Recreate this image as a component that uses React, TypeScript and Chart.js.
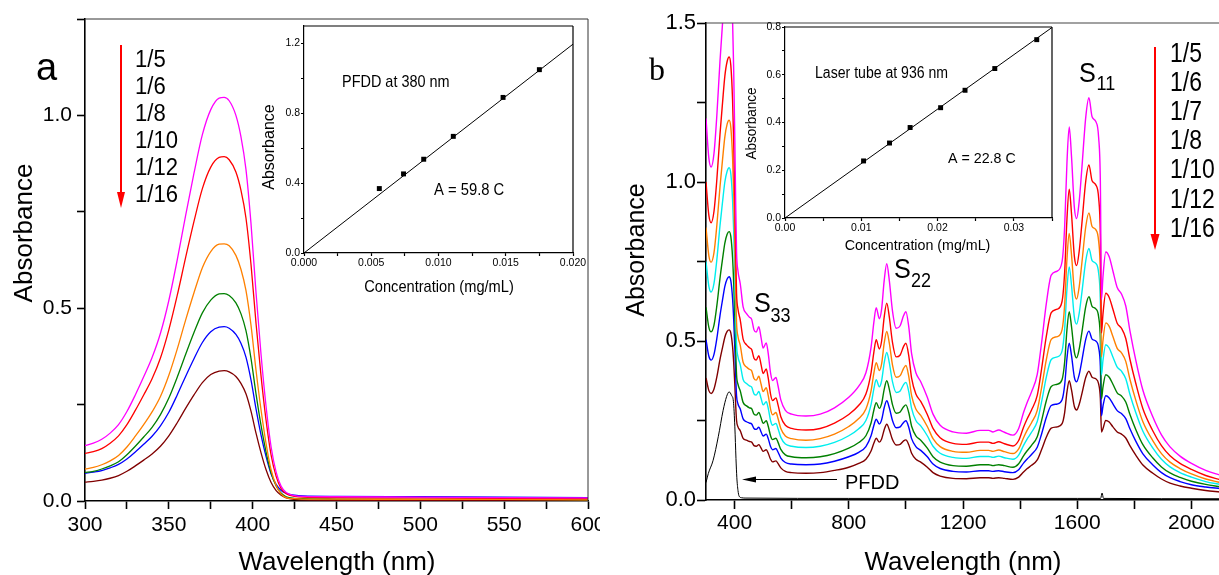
import React, { useEffect, useRef } from 'react';
import { Chart, registerables } from 'chart.js';

Chart.register(...registerables);

const SANS = "'Liberation Sans', Arial, Helvetica, sans-serif";
const SERIF = "'Liberation Serif', 'Times New Roman', Times, serif";

const MAGENTA = '#ff00ff';
const RED = '#ff0000';
const ORANGE = '#ff8000';
const CYAN = '#00eeee';
const GREEN = '#008000';
const BLUE = '#0000ff';
const BROWN = '#800000';

// ---------- Panel a: PFDD absorption spectra at six dilutions ----------
const WL_A = [300, 305, 310, 315, 320, 325, 330, 335, 340, 345, 350, 355, 360, 365, 370, 375, 380, 383, 386, 390,
  393, 396, 399, 402, 405, 408, 411, 414, 417, 420, 425, 430, 450, 500, 550, 600];
const PFDD_1_5 = [0.144, 0.150, 0.160, 0.176, 0.198, 0.232, 0.275, 0.322, 0.372, 0.435, 0.520, 0.625, 0.740, 0.850, 0.950, 1.015, 1.045, 1.047, 1.038, 1.000,
  0.945, 0.860, 0.720, 0.540, 0.380, 0.245, 0.140, 0.075, 0.038, 0.022, 0.014, 0.012, 0.011, 0.010, 0.009, 0.008];
const PFDD_1_6 = [0.123, 0.128, 0.136, 0.150, 0.169, 0.198, 0.235, 0.275, 0.317, 0.371, 0.444, 0.533, 0.631, 0.725, 0.810, 0.866, 0.891, 0.893, 0.885, 0.853,
  0.806, 0.734, 0.614, 0.461, 0.324, 0.209, 0.119, 0.064, 0.032, 0.019, 0.012, 0.010, 0.009, 0.008, 0.007, 0.006];
const PFDD_1_8 = [0.083, 0.087, 0.094, 0.104, 0.118, 0.140, 0.168, 0.198, 0.231, 0.271, 0.326, 0.394, 0.469, 0.540, 0.605, 0.647, 0.666, 0.667, 0.662, 0.637,
  0.601, 0.546, 0.456, 0.339, 0.236, 0.149, 0.081, 0.040, 0.018, 0.009, 0.006, 0.005, 0.005, 0.004, 0.004, 0.003];
const PFDD_1_10 = [0.074, 0.077, 0.083, 0.091, 0.102, 0.120, 0.142, 0.166, 0.191, 0.224, 0.267, 0.321, 0.380, 0.437, 0.488, 0.521, 0.537, 0.538, 0.533, 0.514,
  0.486, 0.442, 0.370, 0.278, 0.196, 0.127, 0.073, 0.039, 0.020, 0.011, 0.007, 0.006, 0.005, 0.004, 0.004, 0.003];
const PFDD_1_12 = [0.072, 0.075, 0.079, 0.086, 0.095, 0.109, 0.127, 0.147, 0.168, 0.195, 0.230, 0.275, 0.323, 0.369, 0.411, 0.439, 0.451, 0.452, 0.448, 0.432,
  0.409, 0.373, 0.314, 0.239, 0.171, 0.115, 0.070, 0.043, 0.027, 0.020, 0.015, 0.013, 0.012, 0.011, 0.010, 0.009];
const PFDD_1_16 = [0.049, 0.051, 0.054, 0.059, 0.066, 0.077, 0.091, 0.106, 0.122, 0.142, 0.169, 0.203, 0.240, 0.275, 0.307, 0.328, 0.337, 0.338, 0.335, 0.323,
  0.305, 0.278, 0.233, 0.176, 0.125, 0.081, 0.048, 0.027, 0.015, 0.008, 0.004, 0.003, 0.002, 0.002, 0.001, 0.001];
const LEGEND_A = ['1/5', '1/6', '1/8', '1/10', '1/12', '1/16'];
const SERIES_A = [PFDD_1_5, PFDD_1_6, PFDD_1_8, PFDD_1_10, PFDD_1_12, PFDD_1_16];
const COLORS_A = [MAGENTA, RED, ORANGE, GREEN, BLUE, BROWN];

// Inset a: absorbance at 380 nm against PFDD concentration
const CONC_A = [0.0056, 0.0074, 0.0089, 0.0111, 0.0148, 0.0175];
const ABS_380 = [0.369, 0.453, 0.537, 0.668, 0.891, 1.05];
const FIT_A_X = [0, 0.02];
const FIT_A_Y = [0, 1.196];

// ---------- Panel b: laser-tube dispersions at seven dilutions ----------
const WL_B = [300, 310, 318, 328, 338, 349, 358, 366, 374, 381,
  387, 393, 397, 401, 404, 407, 412, 420, 430, 442,
  452, 460, 468, 476, 485, 493, 500, 511, 518, 526,
  533, 545, 552, 562, 578, 600, 650, 700, 750, 800,
  835, 860, 878, 888, 896, 907, 915, 924, 933, 942,
  953, 966, 980, 992, 1000, 1010, 1020, 1035, 1052, 1075,
  1095, 1120, 1165, 1212, 1260, 1290, 1305, 1325, 1345, 1375,
  1395, 1412, 1424, 1440, 1460, 1475, 1492, 1509, 1530, 1547,
  1556, 1564, 1572, 1580, 1590, 1598, 1607, 1616, 1630, 1641,
  1652, 1665, 1675, 1681, 1685, 1690, 1700, 1712, 1725, 1740,
  1755, 1770, 1785, 1805, 1830, 1865, 1895, 1925, 1960, 2000,
  2050, 2100];
const TUBE_1_5 = [1.20, 1.075, 1.047, 1.09, 1.21, 1.38, 1.50, 1.60, 1.655, 1.672,
  1.64, 1.51, 1.35, 1.13, 0.93, 0.78, 0.72, 0.68, 0.607, 0.586,
  0.575, 0.568, 0.535, 0.528, 0.545, 0.51, 0.478, 0.494, 0.46, 0.40,
  0.376, 0.385, 0.36, 0.315, 0.282, 0.27, 0.264, 0.27, 0.29, 0.323,
  0.358, 0.40, 0.48, 0.56, 0.605, 0.57, 0.60, 0.69, 0.743, 0.69,
  0.595, 0.54, 0.548, 0.58, 0.592, 0.545, 0.46, 0.40, 0.372, 0.323,
  0.27, 0.235, 0.214, 0.21, 0.219, 0.219, 0.214, 0.22, 0.213, 0.204,
  0.225, 0.275, 0.305, 0.34, 0.395, 0.493, 0.619, 0.707, 0.72, 0.75,
  0.86, 1.06, 1.173, 1.08, 0.92, 0.885, 0.94, 1.04, 1.205, 1.265,
  1.205, 1.19, 1.14, 1.0, 0.63, 0.70, 0.78, 0.765, 0.72, 0.668,
  0.648, 0.61, 0.53, 0.44, 0.345, 0.261, 0.205, 0.167, 0.138, 0.115,
  0.093, 0.078];
const TUBE_1_6 = [1.000, 0.895, 0.872, 0.908, 1.008, 1.150, 1.250, 1.333, 1.379, 1.393,
  1.366, 1.258, 1.125, 0.941, 0.775, 0.650, 0.600, 0.566, 0.506, 0.488,
  0.479, 0.473, 0.446, 0.440, 0.454, 0.425, 0.398, 0.412, 0.383, 0.333,
  0.313, 0.321, 0.300, 0.262, 0.235, 0.225, 0.220, 0.225, 0.242, 0.269,
  0.298, 0.333, 0.400, 0.466, 0.504, 0.475, 0.500, 0.575, 0.619, 0.575,
  0.496, 0.450, 0.456, 0.483, 0.493, 0.454, 0.383, 0.333, 0.310, 0.269,
  0.225, 0.196, 0.178, 0.175, 0.182, 0.182, 0.178, 0.183, 0.177, 0.170,
  0.187, 0.229, 0.254, 0.283, 0.329, 0.411, 0.516, 0.589, 0.600, 0.625,
  0.716, 0.883, 0.977, 0.900, 0.766, 0.737, 0.783, 0.866, 1.004, 1.054,
  1.004, 0.991, 0.950, 0.833, 0.525, 0.583, 0.650, 0.637, 0.600, 0.556,
  0.540, 0.508, 0.441, 0.367, 0.287, 0.217, 0.171, 0.139, 0.115, 0.096,
  0.077, 0.064];
const TUBE_1_7 = [0.857, 0.768, 0.748, 0.778, 0.864, 0.985, 1.071, 1.142, 1.182, 1.194,
  1.171, 1.078, 0.964, 0.807, 0.664, 0.557, 0.514, 0.486, 0.433, 0.418,
  0.411, 0.406, 0.382, 0.377, 0.389, 0.364, 0.341, 0.353, 0.328, 0.286,
  0.268, 0.275, 0.257, 0.225, 0.201, 0.193, 0.188, 0.193, 0.207, 0.231,
  0.256, 0.286, 0.343, 0.400, 0.432, 0.407, 0.428, 0.493, 0.530, 0.493,
  0.425, 0.386, 0.391, 0.414, 0.423, 0.389, 0.328, 0.286, 0.266, 0.231,
  0.193, 0.168, 0.153, 0.150, 0.156, 0.156, 0.153, 0.157, 0.152, 0.146,
  0.161, 0.196, 0.218, 0.243, 0.282, 0.352, 0.442, 0.505, 0.514, 0.536,
  0.614, 0.757, 0.838, 0.771, 0.657, 0.632, 0.671, 0.743, 0.860, 0.903,
  0.860, 0.850, 0.814, 0.714, 0.450, 0.500, 0.557, 0.546, 0.514, 0.477,
  0.463, 0.436, 0.378, 0.314, 0.246, 0.186, 0.146, 0.119, 0.099, 0.082,
  0.066, 0.055];
const TUBE_1_8 = [0.750, 0.672, 0.654, 0.681, 0.756, 0.863, 0.938, 1.000, 1.034, 1.045,
  1.025, 0.944, 0.844, 0.706, 0.581, 0.488, 0.450, 0.425, 0.379, 0.366,
  0.359, 0.355, 0.334, 0.330, 0.341, 0.319, 0.299, 0.309, 0.288, 0.250,
  0.235, 0.241, 0.225, 0.197, 0.176, 0.169, 0.165, 0.169, 0.181, 0.202,
  0.224, 0.250, 0.300, 0.350, 0.378, 0.356, 0.375, 0.431, 0.464, 0.431,
  0.372, 0.338, 0.343, 0.363, 0.370, 0.341, 0.288, 0.250, 0.233, 0.202,
  0.169, 0.147, 0.134, 0.131, 0.137, 0.137, 0.134, 0.138, 0.133, 0.128,
  0.141, 0.172, 0.191, 0.213, 0.247, 0.308, 0.387, 0.442, 0.450, 0.469,
  0.538, 0.663, 0.733, 0.675, 0.575, 0.553, 0.588, 0.650, 0.753, 0.791,
  0.753, 0.744, 0.713, 0.625, 0.394, 0.438, 0.488, 0.478, 0.450, 0.418,
  0.405, 0.381, 0.331, 0.275, 0.216, 0.163, 0.128, 0.104, 0.086, 0.072,
  0.058, 0.049];
const TUBE_1_10 = [0.606, 0.543, 0.529, 0.550, 0.611, 0.697, 0.758, 0.808, 0.836, 0.844,
  0.828, 0.763, 0.682, 0.571, 0.470, 0.394, 0.364, 0.343, 0.307, 0.296,
  0.290, 0.287, 0.270, 0.267, 0.275, 0.258, 0.241, 0.249, 0.232, 0.202,
  0.190, 0.194, 0.182, 0.159, 0.142, 0.136, 0.133, 0.136, 0.146, 0.163,
  0.181, 0.202, 0.242, 0.283, 0.306, 0.288, 0.303, 0.348, 0.375, 0.348,
  0.300, 0.273, 0.277, 0.293, 0.299, 0.275, 0.232, 0.202, 0.188, 0.163,
  0.136, 0.119, 0.108, 0.106, 0.111, 0.111, 0.108, 0.111, 0.108, 0.103,
  0.114, 0.139, 0.154, 0.172, 0.199, 0.249, 0.313, 0.357, 0.364, 0.379,
  0.434, 0.535, 0.592, 0.545, 0.465, 0.447, 0.475, 0.525, 0.609, 0.639,
  0.609, 0.601, 0.576, 0.505, 0.318, 0.354, 0.394, 0.386, 0.364, 0.337,
  0.327, 0.308, 0.268, 0.222, 0.174, 0.132, 0.104, 0.085, 0.071, 0.059,
  0.049, 0.042];
const TUBE_1_12 = [0.504, 0.452, 0.440, 0.458, 0.508, 0.580, 0.630, 0.672, 0.695, 0.702,
  0.689, 0.634, 0.567, 0.475, 0.391, 0.328, 0.302, 0.286, 0.255, 0.246,
  0.242, 0.239, 0.225, 0.222, 0.229, 0.214, 0.201, 0.207, 0.193, 0.168,
  0.158, 0.162, 0.151, 0.132, 0.118, 0.113, 0.111, 0.113, 0.122, 0.136,
  0.150, 0.168, 0.202, 0.235, 0.254, 0.239, 0.252, 0.290, 0.312, 0.290,
  0.250, 0.227, 0.230, 0.244, 0.249, 0.229, 0.193, 0.168, 0.156, 0.136,
  0.113, 0.099, 0.090, 0.088, 0.092, 0.092, 0.090, 0.092, 0.089, 0.086,
  0.095, 0.116, 0.128, 0.143, 0.166, 0.207, 0.260, 0.297, 0.302, 0.315,
  0.361, 0.445, 0.493, 0.454, 0.386, 0.372, 0.395, 0.437, 0.506, 0.531,
  0.506, 0.500, 0.479, 0.420, 0.265, 0.294, 0.328, 0.321, 0.302, 0.281,
  0.272, 0.256, 0.223, 0.185, 0.145, 0.110, 0.086, 0.070, 0.058, 0.048,
  0.041, 0.036];
const TUBE_1_16 = [0.384, 0.344, 0.335, 0.349, 0.387, 0.442, 0.480, 0.512, 0.530, 0.535,
  0.525, 0.483, 0.432, 0.362, 0.298, 0.250, 0.230, 0.218, 0.194, 0.188,
  0.184, 0.182, 0.171, 0.169, 0.174, 0.163, 0.153, 0.158, 0.147, 0.128,
  0.120, 0.123, 0.115, 0.101, 0.090, 0.086, 0.084, 0.086, 0.093, 0.103,
  0.115, 0.128, 0.154, 0.179, 0.194, 0.182, 0.192, 0.221, 0.238, 0.221,
  0.190, 0.173, 0.175, 0.186, 0.189, 0.174, 0.147, 0.128, 0.119, 0.103,
  0.086, 0.075, 0.068, 0.067, 0.070, 0.070, 0.068, 0.070, 0.068, 0.065,
  0.072, 0.088, 0.098, 0.109, 0.126, 0.158, 0.198, 0.226, 0.230, 0.240,
  0.275, 0.339, 0.375, 0.346, 0.294, 0.283, 0.301, 0.333, 0.386, 0.405,
  0.386, 0.381, 0.365, 0.320, 0.214, 0.224, 0.250, 0.245, 0.230, 0.214,
  0.207, 0.195, 0.170, 0.141, 0.110, 0.084, 0.066, 0.053, 0.044, 0.037,
  0.030, 0.025];
const LEGEND_B = ['1/5', '1/6', '1/7', '1/8', '1/10', '1/12', '1/16'];
const SERIES_B = [TUBE_1_5, TUBE_1_6, TUBE_1_7, TUBE_1_8, TUBE_1_10, TUBE_1_12, TUBE_1_16];
const COLORS_B = [MAGENTA, RED, ORANGE, CYAN, GREEN, BLUE, BROWN];

// Pure PFDD reference spectrum drawn in panel b
const WL_PFDD = [300, 308, 325, 343, 360, 372, 381, 390, 396, 401, 405, 408, 412, 416, 425, 440, 800, 1200, 1600, 1682, 1687, 1692, 2100];
const ABS_PFDD = [0.055, 0.083, 0.125, 0.199, 0.282, 0.325, 0.34, 0.328, 0.31, 0.23, 0.13, 0.07, 0.03, 0.012, 0.007, 0.006, 0.005, 0.005, 0.005, 0.005, 0.022, 0.005, 0.004];

// Inset b: absorbance at 936 nm against tube concentration
const CONC_B = [0.0103, 0.0137, 0.0164, 0.0204, 0.0236, 0.0275, 0.0330];
const ABS_936 = [0.239, 0.314, 0.379, 0.462, 0.535, 0.626, 0.747];
const FIT_B_X = [0, 0.035];
const FIT_B_Y = [0, 0.798];

// Tick positions and labelled ticks
const A_X_TICKS = [300, 325, 350, 375, 400, 425, 450, 475, 500, 525, 550, 575, 600];
const A_X_LABELS = [300, 350, 400, 450, 500, 550, 600];
const A_Y_TICKS = [0, 0.25, 0.5, 0.75, 1, 1.25];
const A_Y_LABELS = [0, 0.5, 1];
const B_X_TICKS = [400, 600, 800, 1000, 1200, 1400, 1600, 1800, 2000];
const B_X_LABELS = [400, 800, 1200, 1600, 2000];
const B_Y_TICKS = [0, 0.25, 0.5, 0.75, 1, 1.25, 1.5];
const B_Y_LABELS = [0, 0.5, 1, 1.5];
const IA_X_TICKS = [0, 0.0025, 0.005, 0.0075, 0.01, 0.0125, 0.015, 0.0175, 0.02];
const IA_X_LABELS = [0, 0.005, 0.01, 0.015, 0.02];
const IA_Y_TICKS = [0, 0.2, 0.4, 0.6, 0.8, 1.0, 1.2];
const IA_Y_LABELS = [0, 0.4, 0.8, 1.2];
const IB_X_TICKS = [0, 0.005, 0.01, 0.015, 0.02, 0.025, 0.03, 0.035];
const IB_X_LABELS = [0, 0.01, 0.02, 0.03];
const IB_Y_TICKS = [0, 0.1, 0.2, 0.3, 0.4, 0.5, 0.6, 0.7, 0.8];
const IB_Y_LABELS = [0, 0.2, 0.4, 0.6, 0.8];

type Pt = { x: number; y: number };
const pts = (xs: number[], ys: number[]): Pt[] => xs.map((x, i) => ({ x, y: ys[i] }));

interface AxisSpec {
  min: number;
  max: number;
  ticks: number[];
  labels: number[];
  digits: number;
  font: number;
  tickLen: number;
  pad: number;
  size: number;
  border: number;
}

function axis(s: AxisSpec, horizontal: boolean): any {
  return {
    type: 'linear',
    min: s.min,
    max: s.max,
    afterBuildTicks: (sc: any) => {
      sc.ticks = s.ticks.map((value) => ({ value }));
    },
    afterFit: (sc: any) => {
      if (horizontal) sc.height = s.size;
      else sc.width = s.size;
      sc.paddingLeft = 0;
      sc.paddingRight = 0;
      sc.paddingTop = 0;
      sc.paddingBottom = 0;
    },
    ticks: {
      autoSkip: false,
      maxRotation: 0,
      minRotation: 0,
      padding: s.pad,
      color: '#000',
      font: { family: SANS, size: s.font },
      callback: (v: any) => {
        const n = Number(v);
        return s.labels.some((l) => Math.abs(l - n) < 1e-9) ? n.toFixed(s.digits) : '';
      },
    },
    grid: {
      display: true,
      drawOnChartArea: false,
      drawTicks: true,
      tickLength: s.tickLen,
      tickColor: '#000',
      tickWidth: s.border,
    },
    border: { display: true, color: '#000', width: s.border },
  };
}

function lineSet(data: Pt[], color: string, width: number): any {
  return {
    data,
    borderColor: color,
    backgroundColor: color,
    borderWidth: width,
    pointRadius: 0,
    fill: false,
    cubicInterpolationMode: 'monotone',
  };
}

type TextOpts = {
  family?: string;
  align?: CanvasTextAlign;
  baseline?: CanvasTextBaseline;
  sx?: number;
  rot?: number;
  color?: string;
};

function drawText(ctx: CanvasRenderingContext2D, s: string, x: number, y: number, size: number, o: TextOpts = {}) {
  ctx.save();
  ctx.translate(x, y);
  if (o.rot) ctx.rotate(o.rot);
  if (o.sx) ctx.scale(o.sx, 1);
  ctx.font = `${size}px ${o.family ?? SANS}`;
  ctx.fillStyle = o.color ?? '#000';
  ctx.textAlign = o.align ?? 'left';
  ctx.textBaseline = o.baseline ?? 'alphabetic';
  ctx.fillText(s, 0, 0);
  ctx.restore();
}

function downArrow(ctx: CanvasRenderingContext2D, x: number, y0: number, y1: number, head: number, half: number, color: string, lw: number) {
  ctx.save();
  ctx.strokeStyle = color;
  ctx.fillStyle = color;
  ctx.lineWidth = lw;
  ctx.beginPath();
  ctx.moveTo(x, y0);
  ctx.lineTo(x, y1 - head + 1);
  ctx.stroke();
  ctx.beginPath();
  ctx.moveTo(x - half, y1 - head);
  ctx.lineTo(x + half, y1 - head);
  ctx.lineTo(x, y1);
  ctx.closePath();
  ctx.fill();
  ctx.restore();
}

function leftArrow(ctx: CanvasRenderingContext2D, tip: number, tail: number, y: number, head: number, half: number, color: string, lw: number) {
  ctx.save();
  ctx.strokeStyle = color;
  ctx.fillStyle = color;
  ctx.lineWidth = lw;
  ctx.beginPath();
  ctx.moveTo(tail, y);
  ctx.lineTo(tip + head - 1, y);
  ctx.stroke();
  ctx.beginPath();
  ctx.moveTo(tip + head, y - half);
  ctx.lineTo(tip + head, y + half);
  ctx.lineTo(tip, y);
  ctx.closePath();
  ctx.fill();
  ctx.restore();
}

function bandLabel(ctx: CanvasRenderingContext2D, sub: string, x: number, y: number, xs: number, ys: number) {
  drawText(ctx, 'S', x, y, 28, { sx: 0.9 });
  drawText(ctx, sub, xs, ys, 20, { sx: 0.9 });
}

function frame(ctx: CanvasRenderingContext2D, ca: any, sides: string, color: string, lw: number) {
  ctx.save();
  ctx.strokeStyle = color;
  ctx.lineWidth = lw;
  ctx.beginPath();
  if (sides.includes('t')) {
    ctx.moveTo(ca.left, ca.top);
    ctx.lineTo(ca.right, ca.top);
  }
  if (sides.includes('r')) {
    ctx.moveTo(ca.right, ca.top);
    ctx.lineTo(ca.right, ca.bottom);
  }
  ctx.stroke();
  ctx.restore();
}

// Panel a decorations: frame, titles, panel letter, dilution legend
const overlayA = {
  id: 'overlayA',
  afterDraw(chart: any) {
    const ctx: CanvasRenderingContext2D = chart.ctx;
    frame(ctx, chart.chartArea, 'tr', '#333', 1);
    drawText(ctx, 'Absorbance', 25, 233, 26, { rot: -Math.PI / 2, align: 'center', baseline: 'middle' });
    drawText(ctx, 'Wavelength (nm)', 337, 570, 26, { align: 'center' });
    drawText(ctx, 'a', 36, 80, 38);
    downArrow(ctx, 121, 45, 208, 16, 4, RED, 2);
    LEGEND_A.forEach((t, i) => drawText(ctx, t, 135, 66.7 + 27 * i, 23, { sx: 0.96 }));
  },
};

// Panel b decorations (drawn in page coordinates; canvas sits at x = 600)
const overlayB = {
  id: 'overlayB',
  afterDraw(chart: any) {
    const ctx: CanvasRenderingContext2D = chart.ctx;
    frame(ctx, chart.chartArea, 't', '#444', 1.2);
    ctx.save();
    ctx.translate(-600, 0);
    drawText(ctx, 'Absorbance', 637, 250, 25, { rot: -Math.PI / 2, align: 'center', baseline: 'middle' });
    drawText(ctx, 'Wavelength (nm)', 963, 570, 26, { align: 'center' });
    drawText(ctx, 'b', 649, 80, 32, { family: SERIF });
    bandLabel(ctx, '33', 754, 312, 770.5, 322);
    bandLabel(ctx, '22', 894, 278, 911, 287);
    bandLabel(ctx, '11', 1079, 82, 1096.5, 90);
    downArrow(ctx, 1155, 47, 250, 16, 4.5, RED, 2);
    LEGEND_B.forEach((t, i) => drawText(ctx, t, 1170, 61.5 + 29.2 * i, 27, { sx: 0.85 }));
    leftArrow(ctx, 742, 837, 479.5, 14, 3, '#000', 1);
    drawText(ctx, 'PFDD', 845, 488.5, 20);
    ctx.restore();
  },
};

// Inset a decorations (canvas at 240, 20)
const overlayIA = {
  id: 'overlayIA',
  afterDraw(chart: any) {
    const ctx: CanvasRenderingContext2D = chart.ctx;
    frame(ctx, chart.chartArea, 'tr', '#000', 1.2);
    ctx.save();
    ctx.translate(-240, -20);
    drawText(ctx, 'Absorbance', 270, 147, 16, { rot: -Math.PI / 2, align: 'center', baseline: 'middle' });
    drawText(ctx, 'Concentration (mg/mL)', 439, 292, 17, { align: 'center', sx: 0.86 });
    drawText(ctx, 'PFDD at 380 nm', 342, 86.5, 17, { sx: 0.85 });
    drawText(ctx, 'A = 59.8 C', 434, 195, 17, { sx: 0.87 });
    ctx.restore();
  },
};

// Inset b decorations (canvas at 720, 20)
const overlayIB = {
  id: 'overlayIB',
  afterDraw(chart: any) {
    const ctx: CanvasRenderingContext2D = chart.ctx;
    frame(ctx, chart.chartArea, 'tr', '#000', 1.2);
    ctx.save();
    ctx.translate(-720, -20);
    drawText(ctx, 'Absorbance', 752, 123.5, 15, { rot: -Math.PI / 2, align: 'center', baseline: 'middle', sx: 0.9 });
    drawText(ctx, 'Concentration (mg/mL)', 917.5, 250, 15, { align: 'center', sx: 0.95 });
    drawText(ctx, 'Laser tube at 936 nm', 815, 78.3, 16, { sx: 0.88 });
    drawText(ctx, 'A = 22.8 C', 948, 163.3, 15, { sx: 0.95 });
    ctx.restore();
  },
};

const baseOptions = (padding: any, scales: any) => ({
  responsive: false,
  maintainAspectRatio: false,
  animation: false as const,
  devicePixelRatio: 1,
  events: [] as any[],
  layout: { padding },
  plugins: { legend: { display: false }, tooltip: { enabled: false }, title: { display: false } },
  scales,
});

function configA(): any {
  return {
    type: 'line',
    data: { datasets: SERIES_A.map((ys, i) => lineSet(pts(WL_A, ys), COLORS_A[i], 1.3)) },
    options: baseOptions({ left: 0, top: 19, right: 12, bottom: 0 }, {
      x: axis({ min: 300, max: 600, ticks: A_X_TICKS, labels: A_X_LABELS, digits: 0, font: 21, tickLen: 8, pad: 4, size: 74, border: 1.6 }, true),
      y: axis({ min: 0, max: 1.25, ticks: A_Y_TICKS, labels: A_Y_LABELS, digits: 1, font: 21, tickLen: 8, pad: 5, size: 85, border: 1.6 }, false),
    }),
    plugins: [overlayA],
  };
}

function configB(): any {
  const sets = SERIES_B.map((ys, i) => lineSet(pts(WL_B, ys), COLORS_B[i], 1.4));
  sets.push(lineSet(pts(WL_PFDD, ABS_PFDD), '#000', 1));
  return {
    type: 'line',
    data: { datasets: sets },
    options: baseOptions({ left: 0, top: 23, right: 4, bottom: 0 }, {
      x: axis({ min: 300, max: 2100, ticks: B_X_TICKS, labels: B_X_LABELS, digits: 0, font: 21, tickLen: 9, pad: 2, size: 75, border: 1.6 }, true),
      y: axis({ min: 0, max: 1.5, ticks: B_Y_TICKS, labels: B_Y_LABELS, digits: 1, font: 22, tickLen: 9, pad: 1, size: 106, border: 1.6 }, false),
    }),
    plugins: [overlayB],
  };
}

function insetConfig(cx: number[], cy: number[], fx: number[], fy: number[], xs: AxisSpec, ys: AxisSpec, padding: any, overlay: any): any {
  return {
    type: 'line',
    data: {
      datasets: [
        { ...lineSet(pts(fx, fy), '#000', 1), cubicInterpolationMode: 'default', tension: 0 },
        {
          data: pts(cx, cy),
          showLine: false,
          pointStyle: 'rect',
          pointRadius: 3.5,
          pointBorderWidth: 0,
          pointBackgroundColor: '#000',
          borderColor: '#000',
        },
      ],
    },
    options: baseOptions(padding, { x: axis(xs, true), y: axis(ys, false) }),
    plugins: [overlay],
  };
}

function configIA(): any {
  return insetConfig(
    CONC_A, ABS_380, FIT_A_X, FIT_A_Y,
    { min: 0, max: 0.02, ticks: IA_X_TICKS, labels: IA_X_LABELS, digits: 3, font: 10.5, tickLen: 3, pad: 1, size: 47, border: 1.2 },
    { min: 0, max: 1.3, ticks: IA_Y_TICKS, labels: IA_Y_LABELS, digits: 1, font: 10.5, tickLen: 3, pad: 1, size: 64, border: 1.2 },
    { left: 0, top: 6, right: 24, bottom: 0 },
    overlayIA,
  );
}

function configIB(): any {
  return insetConfig(
    CONC_B, ABS_936, FIT_B_X, FIT_B_Y,
    { min: 0, max: 0.035, ticks: IB_X_TICKS, labels: IB_X_LABELS, digits: 2, font: 10.5, tickLen: 3, pad: 1, size: 47, border: 1.2 },
    { min: 0, max: 0.8, ticks: IB_Y_TICKS, labels: IB_Y_LABELS, digits: 1, font: 10.5, tickLen: 3, pad: 1, size: 65, border: 1.2 },
    { left: 0, top: 7, right: 13, bottom: 0 },
    overlayIB,
  );
}

const canvasStyle = (left: number, top: number, w: number, h: number): React.CSSProperties => ({
  position: 'absolute',
  left,
  top,
  width: w,
  height: h,
  display: 'block',
});

export default function App() {
  const aRef = useRef<HTMLCanvasElement>(null);
  const bRef = useRef<HTMLCanvasElement>(null);
  const iaRef = useRef<HTMLCanvasElement>(null);
  const ibRef = useRef<HTMLCanvasElement>(null);

  useEffect(() => {
    const charts: Chart[] = [];
    if (aRef.current) charts.push(new Chart(aRef.current, configA()));
    if (bRef.current) charts.push(new Chart(bRef.current, configB()));
    if (iaRef.current) charts.push(new Chart(iaRef.current, configIA()));
    if (ibRef.current) charts.push(new Chart(ibRef.current, configIB()));
    return () => charts.forEach((c) => c.destroy());
  }, []);

  return (
    <div
      style={{
        position: 'fixed',
        left: 0,
        top: 0,
        width: 1219,
        height: 575,
        overflow: 'hidden',
        background: '#fff',
      }}
    >
      <canvas ref={aRef} width={600} height={575} style={canvasStyle(0, 0, 600, 575)} />
      <canvas ref={bRef} width={624} height={575} style={canvasStyle(600, 0, 624, 575)} />
      <canvas ref={iaRef} width={357} height={280} style={canvasStyle(240, 20, 357, 280)} />
      <canvas ref={ibRef} width={345} height={245} style={canvasStyle(720, 20, 345, 245)} />
    </div>
  );
}
